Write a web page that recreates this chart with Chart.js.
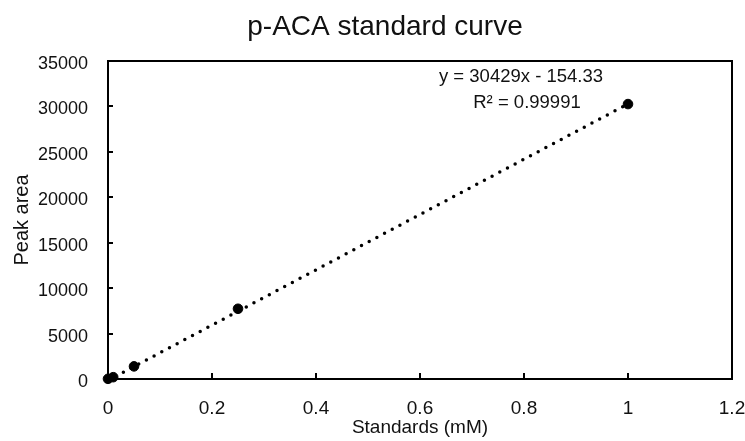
<!DOCTYPE html>
<html>
<head>
<meta charset="utf-8">
<title>p-ACA standard curve</title>
<script src="https://cdn.jsdelivr.net/npm/chart.js@4.4.1/dist/chart.umd.min.js"></script>
<style>
  html, body { margin: 0; padding: 0; background: #fff; }
  #wrap { width: 745px; height: 441px; }
</style>
</head>
<body>
<div id="wrap"><canvas id="curve"></canvas></div>
<script>
// standards (mM) and measured peak areas
const standards = [0, 0.01, 0.05, 0.25, 1.0];
const peakAreas = [20, 200, 1390, 7730, 30260];

// linear fit, as printed on the chart
const slope = 30429;
const intercept = -154.33;
const rSquared = '0.99991';
const fitRange = [0, 1.0];

const xTicks = [0, 0.2, 0.4, 0.6, 0.8, 1, 1.2];
const yTicks = [0, 5000, 10000, 15000, 20000, 25000, 30000, 35000];

const FONT = "'Liberation Sans', Arial, Helvetica, sans-serif";

const fitPoints = fitRange.map(x => ({ x: x, y: slope * x + intercept }));

// plot frame, inward tick marks, title and fit equation
const decorations = {
    id: 'decorations',
    afterDraw(chart) {
        const ctx = chart.ctx;
        const a = chart.chartArea;
        const xs = chart.scales.x, ys = chart.scales.y;
        ctx.save();
        ctx.strokeStyle = '#000';
        ctx.lineWidth = 2;
        ctx.beginPath();
        xTicks.forEach(v => {
            const px = Math.round(xs.getPixelForValue(v));
            ctx.moveTo(px, a.bottom);
            ctx.lineTo(px, a.bottom - 6);
        });
        yTicks.forEach(v => {
            const py = Math.round(ys.getPixelForValue(v));
            ctx.moveTo(a.left, py);
            ctx.lineTo(a.left + 5, py);
        });
        ctx.stroke();
        ctx.strokeRect(a.left, a.top, a.right - a.left, a.bottom - a.top);

        ctx.fillStyle = '#111';
        ctx.textAlign = 'center';
        ctx.textBaseline = 'middle';
        ctx.font = '28px ' + FONT;
        ctx.fillText('p-ACA standard curve', 385, 27);

        ctx.font = '18.5px ' + FONT;
        ctx.fillText('y = ' + slope + 'x - ' + Math.abs(intercept), 521, 77);
        ctx.fillText('R\u00b2 = ' + rSquared, 527, 103);
        ctx.restore();
    }
};

new Chart(document.getElementById('curve'), {
    type: 'scatter',
    data: {
        datasets: [{
            label: 'Standards',
            data: standards.map((x, i) => ({ x: x, y: peakAreas[i] })),
            backgroundColor: '#000',
            borderColor: '#000',
            pointRadius: 4.8,
            pointHoverRadius: 4.8,
            clip: false,
            order: 1
        },
        {
            label: 'Linear fit',
            type: 'line',
            data: fitPoints,
            showLine: true,
            borderColor: '#000',
            borderWidth: 3.5,
            borderDash: [0, 8.7],
            borderCapStyle: 'round',
            pointRadius: 0,
            fill: false,
            clip: false,
            order: 2
        }]
    },
    options: {
        responsive: true,
        maintainAspectRatio: false,
        animation: false,
        devicePixelRatio: 1,
        layout: {
            padding: { top: 61, right: 13, left: 0, bottom: 0 }
        },
        plugins: {
            legend: { display: false },
            tooltip: { enabled: false },
            title: { display: false }
        },
        scales: {
            x: {
                type: 'linear',
                min: 0,
                max: 1.2,
                afterBuildTicks: (s) => { s.ticks = xTicks.map(v => ({ value: v })); },
                afterFit: (s) => { s.height = 62; s.paddingLeft = 0; s.paddingRight = 0; },
                border: { display: false },
                grid: { display: false, drawTicks: false, tickLength: 0 },
                ticks: {
                    color: '#111',
                    padding: 18,
                    maxRotation: 0,
                    font: { family: FONT, size: 19 },
                    callback: (v) => String(Math.round(v * 10) / 10)
                },
                title: {
                    display: true,
                    text: 'Standards (mM)',
                    color: '#111',
                    font: { family: FONT, size: 19 },
                    padding: { top: 0, bottom: 2 }
                }
            },
            y: {
                type: 'linear',
                min: 0,
                max: 35000,
                afterBuildTicks: (s) => { s.ticks = yTicks.map(v => ({ value: v })); },
                afterFit: (s) => { s.width = 108; s.paddingTop = 0; s.paddingBottom = 0; },
                border: { display: false },
                grid: { display: false, drawTicks: false, tickLength: 0 },
                ticks: {
                    color: '#111',
                    padding: 20,
                    labelOffset: 3,
                    font: { family: FONT, size: 18 },
                    callback: (v) => String(v)
                },
                title: {
                    display: true,
                    text: 'Peak area',
                    color: '#111',
                    font: { family: FONT, size: 20 },
                    padding: { top: 10, bottom: 0 }
                }
            }
        }
    },
    plugins: [decorations]
});
</script>
</body>
</html>
